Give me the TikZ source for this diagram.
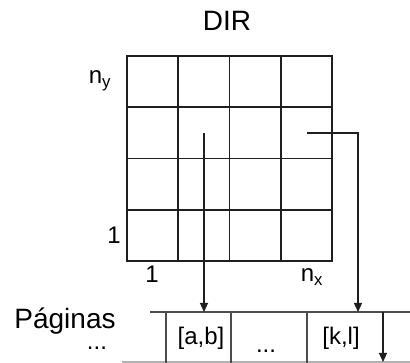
\documentclass[tikz,border=0pt]{standalone}
\usepackage{fontspec}
\setmainfont{Liberation Sans}
\usetikzlibrary{arrows.meta,positioning,calc}
\definecolor{linecolor}{gray}{0.12}
\definecolor{pagecolor}{gray}{0.3}

\begin{document}
\begin{tikzpicture}[
  x=1pt,y=-1pt,
  gridline/.style={line width=1.6pt,draw=linecolor},
  pageline/.style={line width=1.2pt,draw=pagecolor},
  arr/.style={-{Triangle[length=9pt,width=8pt]},line width=1.1pt,draw=linecolor},
  lbl/.style={inner sep=0pt,font=\fontsize{24}{26}\selectfont},
  big/.style={inner sep=0pt,font=\fontsize{28}{30}\selectfont}
]
\useasboundingbox (0,0) rectangle (410,363);
% directory grid
\draw[gridline] (127,56) rectangle (332,261);
\foreach \i in {1,2,3} {
  \draw[gridline] ({127+51.25*\i},56) -- ({127+51.25*\i},261);
  \draw[gridline] (127,{56+51.25*\i}) -- (332,{56+51.25*\i});
}
\node[big] (dir) at (227,21) {DIR};
\node[lbl] (ny) at (100,81) {n\textsubscript{y}};
\node[lbl] (y1) at (114,235) {1};
\node[lbl] (x1) at (152,274) {1};
\node[lbl] (nx) at (312,277) {n\textsubscript{x}};
% pages
\draw[pageline] (150,312) -- (410,312);
\draw[pageline,draw=gray!60] (122,362) -- (410,362);
\foreach \x in {166,231,307}
  \draw[pageline] (\x,312) -- (\x,363);
\node[big,anchor=base] (pag) at (65,329) {Páginas};
\node[lbl,anchor=base] (pagdots) at (97,350) {...};
\node[lbl] (ab) at (201,338) {[a,b]};
\node[lbl,anchor=base] (mid) at (266,353) {...};
\node[lbl] (kl) at (341,338) {[k,l]};
% pointers
\coordinate (abcell) at (204,133);
\coordinate (klcell) at (307,133);
\coordinate (abpage) at (204,312);
\coordinate (klpage) at (358,312);
\coordinate (nexttop) at (383,312);
\coordinate (nextbot) at (383,362);
\draw[arr] (abcell) -- (abpage);
\draw[arr] (klcell) -| (klpage);
\draw[arr] (nexttop) -- (nextbot);
\end{tikzpicture}
\end{document}
